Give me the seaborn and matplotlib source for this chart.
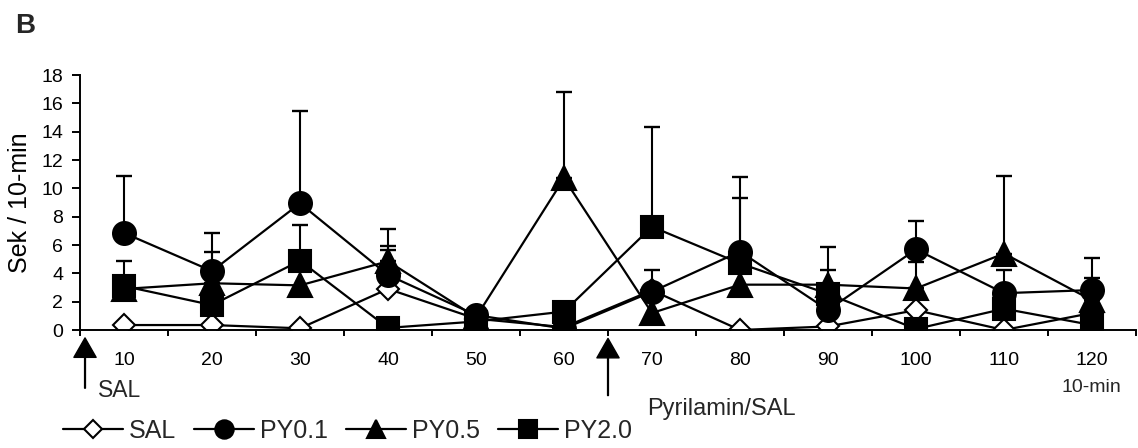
import numpy as np
import seaborn as sns
import matplotlib
matplotlib.use("Agg")
import matplotlib.pyplot as plt
import matplotlib.transforms as mtransforms

# Data
time_labels = ["10", "20", "30", "40", "50", "60", "70", "80", "90", "100", "110", "120"]

sal = [0.35, 0.35, 0.12, 2.9, 0.8, 0.2, 2.8, 0.0, 0.25, 1.4, 0.0, 1.2]
sal_sem = [0, 0, 0, 2.75, 0, 0, 0, 0, 0, 0, 0, 0]

py01 = [6.85, 4.16, 8.94, 3.88, 1.05, 0.1, 2.7, 5.54, 1.41, 5.69, 2.6, 2.82]
py01_sem = [4.02, 2.71, 6.54, 2.07, 0, 0, 1.53, 5.23, 0, 2.03, 1.63, 2.28]

py05 = [2.9, 3.3, 3.15, 4.85, 0.9, 10.7, 1.2, 3.2, 3.2, 2.93, 5.4, 2.1]
py05_sem = [0, 2.23, 0, 2.25, 0, 6.07, 0, 0, 2.68, 1.89, 5.49, 1.55]

py20 = [3.1, 1.76, 4.89, 0.15, 0.6, 1.3, 7.29, 4.7, 2.55, 0.07, 1.5, 0.35]
py20_sem = [1.79, 0, 2.52, 0, 0, 0, 7.01, 4.59, 1.68, 0, 0, 0]

series = [
    ("SAL", sal, sal_sem, "D", "white", 11.5),
    ("PY0.1", py01, py01_sem, "o", "black", 16.5),
    ("PY0.5", py05, py05_sem, "^", "black", 17),
    ("PY2.0", py20, py20_sem, "s", "black", 16.5),
]

sns.set_theme(style="ticks")
plt.rcParams["font.family"] = ["Liberation Sans", "DejaVu Sans"]

W, H = 1138, 448
fig = plt.figure(figsize=(W / 100, H / 100), dpi=100)
ax = fig.add_axes([80 / W, 1 - 330 / H, 1056 / W, 255 / H])

pos = np.arange(len(time_labels))

for name, vals, sem, marker, face, ms in series:
    vals = np.array(vals)
    sem = np.array(sem)
    has_err = sem > 0
    # one-sided (upper) error bars only
    ax.errorbar(pos[has_err], vals[has_err], yerr=[np.zeros(has_err.sum()), sem[has_err]],
                fmt="none", ecolor="black", elinewidth=1.5, capsize=5.5, capthick=1.7, zorder=1.8)
    sns.lineplot(x=pos, y=vals, ax=ax, color="black", linewidth=1.6, marker=marker,
                 markersize=ms, markerfacecolor=face, markeredgecolor="black",
                 markeredgewidth=1.5, label=name)

ax.set_xlim(-0.5, len(time_labels) - 0.5)
ax.set_ylim(0, 18)
ax.set_yticks(np.arange(0, 19, 2))
ax.set_xticks(np.arange(-0.5, len(time_labels), 1))
ax.set_xticklabels([])
ax.set_xticks(pos, minor=True)
ax.set_xticklabels(time_labels, minor=True)
ax.tick_params(axis="x", which="major", direction="out", length=4.3, width=1.4, color="black")
ax.tick_params(axis="x", which="minor", length=0, pad=16, labelsize=14, labelcolor="black")
ax.tick_params(axis="y", direction="out", length=5.8, width=1.4, pad=6.3, labelsize=14,
               color="black", labelcolor="black")
ax.set_xlabel("")
ax.set_ylabel("Sek / 10-min", fontsize=18, color="black")
ax.yaxis.set_label_coords(-0.0455, 0.5)

for side in ["top", "right"]:
    ax.spines[side].set_visible(False)
for side in ["left", "bottom"]:
    ax.spines[side].set_linewidth(1.4)
    ax.spines[side].set_color("black")
ax.set_facecolor("white")

# arrows marking injections
trans = mtransforms.blended_transform_factory(ax.transData, ax.transAxes)
arrow_kw = dict(facecolor="black", edgecolor="black", width=0.6, headwidth=16, headlength=14, shrink=0)
ax.annotate("", xy=(-0.443, -0.031), xytext=(-0.443, -0.228), xycoords=trans,
            textcoords=trans, arrowprops=arrow_kw, annotation_clip=False)
ax.annotate("", xy=(5.5, -0.033), xytext=(5.5, -0.257), xycoords=trans,
            textcoords=trans, arrowprops=arrow_kw, annotation_clip=False)
ax.text(-0.295, -0.263, "SAL", transform=trans, fontsize=16.5, ha="left", va="baseline")
ax.text(5.94, -0.333, "Pyrilamin/SAL", transform=trans, fontsize=17, ha="left", va="baseline")
ax.text(10.99, -0.243, "10-min", transform=trans, fontsize=14, ha="center", va="baseline")

fig.text(15 / W, 1 - 33 / H, "B", fontsize=20, fontweight="bold", va="baseline")

handles, labels = ax.get_legend_handles_labels()
ax.get_legend().remove()
fig.legend(handles, labels, loc="center left", bbox_to_anchor=(63 / W, 0.038), ncol=4,
           frameon=False, fontsize=18, handlelength=2.4, handletextpad=0.25,
           columnspacing=0.7, borderpad=0, borderaxespad=0, markerscale=0.8)

fig.savefig("out.png", dpi=100, facecolor="white")
